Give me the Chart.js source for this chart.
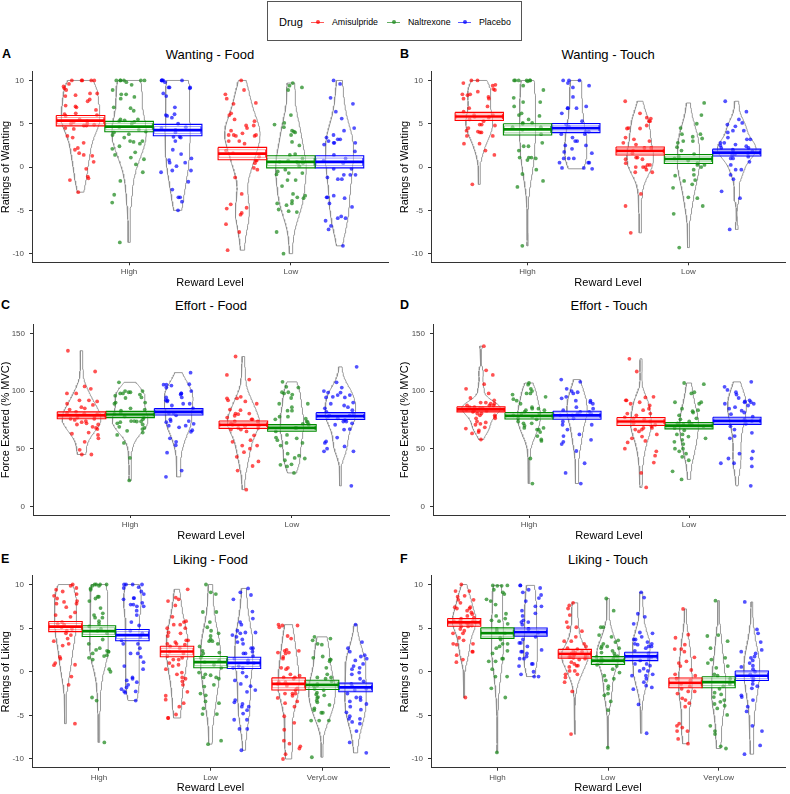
<!DOCTYPE html>
<html><head><meta charset="utf-8">
<script src="https://cdn.jsdelivr.net/npm/chart.js@4.4.1/dist/chart.umd.min.js"></script>
<style>
body{margin:0;width:790px;height:794px;position:relative;background:#fff;font-family:"Liberation Sans",Arial,Helvetica,sans-serif;overflow:hidden}
canvas{position:absolute}
.title{position:absolute;font-size:13px;line-height:1;color:#000;transform:translate(-50%,-50%);white-space:nowrap}
.tag{position:absolute;font-size:12.5px;line-height:1;font-weight:bold;color:#000;transform:translateY(-50%)}
#legend{position:absolute;left:267px;top:1px;width:255px;height:40px;border:1px solid #555;box-sizing:border-box}
#legend span{position:absolute;line-height:1;white-space:nowrap}
.kl{height:1.5px;width:13px;top:19.5px}
.kd{width:4px;height:4px;border-radius:50%;top:18.3px}
.lt{font-size:8.8px;top:16.3px;color:#000}
</style></head>
<body>
<div id="legend">
  <span style="left:11px;top:14.5px;font-size:11px">Drug</span>
  <span class="kl" style="left:43px;background:rgba(255,0,0,0.65)"></span><span class="kd" style="left:47.5px;background:rgba(255,0,0,0.75)"></span>
  <span class="lt" style="left:64px">Amisulpride</span>
  <span class="kl" style="left:119px;background:rgba(34,139,34,0.7)"></span><span class="kd" style="left:123.5px;background:rgba(34,139,34,0.8)"></span>
  <span class="lt" style="left:140px">Naltrexone</span>
  <span class="kl" style="left:190px;background:rgba(0,0,255,0.65)"></span><span class="kd" style="left:194.5px;background:rgba(0,0,255,0.75)"></span>
  <span class="lt" style="left:211px">Placebo</span>
</div>
<div class="tag" style="left:2px;top:54px">A</div>
<div class="tag" style="left:400px;top:54px">B</div>
<div class="tag" style="left:1px;top:305px">C</div>
<div class="tag" style="left:400px;top:305px">D</div>
<div class="tag" style="left:1px;top:558.5px">E</div>
<div class="tag" style="left:400px;top:558.5px">F</div>
<div class="title" style="left:210px;top:53.7px">Wanting - Food</div>
<div class="title" style="left:608px;top:53.7px">Wanting - Touch</div>
<div class="title" style="left:211px;top:305px">Effort - Food</div>
<div class="title" style="left:609px;top:305px">Effort - Touch</div>
<div class="title" style="left:210.5px;top:558.7px">Liking - Food</div>
<div class="title" style="left:608px;top:558.7px">Liking - Touch</div>
<canvas id="cA" width="395" height="230" style="left:0;top:62px"></canvas>
<canvas id="cB" width="395" height="230" style="left:395px;top:62px"></canvas>
<canvas id="cC" width="395" height="230" style="left:0;top:315px"></canvas>
<canvas id="cD" width="395" height="230" style="left:395px;top:315px"></canvas>
<canvas id="cE" width="395" height="228" style="left:0;top:566px"></canvas>
<canvas id="cF" width="395" height="228" style="left:395px;top:566px"></canvas>
<script>
// ---------- categories & tick labels ----------
const drugs = ['Amisulpride','Naltrexone','Placebo'];
const levels2 = ['High','Low'];
const levels3 = ['High','Low','VeryLow'];
const ticksRating = [-10,-5,0,5,10];
const ticksForce = [0,50,100,150];

// ---------- A: Wanting - Food ----------
const wfHighAmi = [10,10,10,10,10,9.6,9.3,9.1,8.9,8.5,8.5,8.3,8.2,7.8,7.6,7.1,7.0,6.9,6.6,6.2,6.1,6.0,5.9,5.5,5.3,5.2,5.0,5.0,4.9,4.8,4.8,4.5,4.4,3.6,3.4,2.8,2.2,2.0,1.6,1.4,1.3,0.6,-0.2,-1.1,-1.3,-1.5,-2.9];
const wfHighNal = [10,10,10,10,10,10,9.8,9.5,8.9,8.4,8.4,8.1,7.9,6.9,6.8,6.5,5.5,5.5,5.4,5.3,5.2,5.0,4.6,4.3,4.1,4.0,3.8,3.7,3.4,3.0,3.0,2.9,2.7,2.4,2.1,1.7,1.4,1.1,0.9,0.3,-0.6,-1.6,-3.2,-4.1,-8.7];
const wfHighPla = [10,10,10,10,10,9.8,9.2,9.2,9.2,9.1,8.5,8.2,6.9,6.1,6.0,5.9,5.7,5.0,4.6,4.5,4.3,4.0,3.5,3.5,3.4,3.0,2.0,1.5,1.0,0.8,0.5,0.5,0.1,-0.4,-0.4,-0.6,-1.7,-2.6,-3.5,-3.5,-4.0,-5.0];
const wfLowAmi = [10,8.9,8.4,7.9,7.4,7.3,6.2,6.0,5.5,5.3,4.8,4.8,4.5,4.2,3.9,3.7,3.7,3.7,3.6,3.6,3.0,3.0,2.7,1.9,1.6,1.2,0.75,0.75,0.45,-0.1,-0.3,-1.2,-3.1,-4.3,-4.7,-4.8,-5.3,-5.5,-6.6,-7.5,-9.6];
const wfLowNal = [9.7,9.4,9.2,8.9,6.0,5.1,4.9,4.6,4.2,4.1,4.0,3.7,2.9,2.5,1.5,1.4,1.0,0.75,0.6,0.6,0.45,0.45,0.1,-0.3,-0.5,-0.7,-0.7,-0.85,-1.5,-1.5,-2.2,-3.1,-3.3,-3.5,-3.6,-3.9,-4.2,-4.2,-4.4,-4.9,-5.1,-5.2,-7.5,-10];
const wfLowPla = [10,9.6,8.0,7.3,6.4,5.6,4.5,4.2,3.7,3.4,3.2,3.2,3.0,2.8,2.8,2.8,2.6,1.8,1.4,1.0,0.75,0.45,-0.2,-0.2,-0.9,-0.9,-0.9,-1.2,-1.4,-1.4,-3.3,-3.5,-3.5,-3.6,-4.2,-4.6,-5.7,-5.9,-5.9,-6.2,-6.8,-7.2,-9.1];
const wfMean = [[5.35,4.68,4.27],[1.56,0.6,0.6]];
const wfSe = [[0.6,0.6,0.66],[0.71,0.7,0.7]];

// ---------- B: Wanting - Touch ----------
const wtHighAmi = [10,10,9.7,9.5,9.4,9.0,8.9,8.7,8.4,8.4,8.3,8.1,7.9,7.9,7.0,6.8,6.4,6.0,6.0,5.8,5.8,5.7,5.5,5.3,4.9,4.9,4.8,4.5,4.2,4.1,4.0,4.0,3.6,3.6,2.7,2.7,1.9,1.4,-2.0];
const wtHighNal = [10,10,10,10,10,10,9.9,9.4,8.9,8.0,7.5,7.5,7.0,6.2,6.0,5.9,5.5,5.1,5.1,5.0,4.6,4.6,4.3,3.8,2.8,2.4,2.4,1.9,1.1,1.1,1.1,1.0,0.8,-0.3,-0.8,-1.6,-2.3,-9.1];
const wtHighPla = [10,10,10,9.7,9.4,9.2,8.1,7.0,6.8,6.8,6.8,6.2,5.3,4.9,4.7,4.1,4.1,3.8,3.8,3.4,3.0,3.0,2.5,2.5,2.1,1.75,1.6,1.0,1.0,1.0,0.5,0.5,0.5,-0.1,-0.1,-0.2];
const wtLowAmi = [7.6,6.2,5.7,5.6,5.3,5.3,4.8,4.5,4.45,4.45,3.4,3.2,3.0,2.8,2.6,2.2,2.2,1.9,1.6,1.1,1.1,0.9,0.9,0.45,0.25,0.25,0,0,0,-0.3,-0.6,-0.6,-3.1,-4.5,-7.6];
const wtLowNal = [7.4,6.0,5.0,4.5,3.8,3.8,3.5,3.3,3.0,3.0,2.8,2.3,1.9,1.5,1.2,1.0,0.75,0.45,0.25,0.25,0,-0.3,-0.9,-1.0,-1.5,-1.6,-2.0,-2.4,-3.5,-3.6,-4.5,-5.4,-9.3];
const wtLowPla = [7.6,6.4,5.5,5.1,4.9,4.7,4.2,4.2,4.0,3.4,3.2,3.2,2.8,2.8,2.6,2.5,2.4,2.2,2.2,2.0,1.9,1.8,1.6,1.5,1.4,1.2,1.0,1.0,0.6,0.25,-0.3,-0.3,-0.9,-1.4,-2.8,-3.6,-7.2];
const wtMean = [[5.84,4.35,4.5],[1.86,0.93,1.67]];
const wtSe = [[0.47,0.65,0.53],[0.46,0.52,0.4]];

// ---------- C: Effort - Food ----------
const efHighAmi = [135,117,104,102,98,98,92,92,91,89,88,86,85,84,82,81,80.5,80,78,77,76,76,75,74,73,72,71,71,69,68,67,64,63,62,59,56,49,45,45];
const efHighNal = [107.6,100,100,99,99,98,98,97,96,94.5,94,90,90,89,85,84,83,81,80,78,77,75.5,74,74,73.6,73.6,73,72,71,69,68,67,65.5,64,62,55,42,22.5];
const efHighPla = [116,106,105.6,105.6,104.8,103,100,98,98,97,94.5,94.5,92,92,91,89,89,87.5,85,81,81,79,75.5,74,74,73,71.6,70,70,68.6,66,64.7,59,56,53,46.6,31,25.6];
const efLowAmi = [130,114,110,95,93.7,93.7,92,91,89,84,83.4,80.5,80.5,80,78.6,77,75.5,75.5,73.6,73.6,72,70.8,69.4,69.4,68,68,66.6,66.6,65,61.6,57.4,56,52.7,52.7,50,47,43,39,35,31,14.5];
const efLowNal = [108,103.7,103,99,99,98,97,94,89,89,86,83,83,77.8,77.8,76,75.5,73.6,73,71.6,70.8,68,68,65,62,59.7,59,57.4,55,55,52.7,45.7,44,42,41.5,40,36.5,36,34.6,29];
const efLowPla = [121,107.6,103,100,98.7,98.7,96.5,96.5,95,94.5,94.5,90,89,87.5,86,85,83.4,82,80.5,79,79,77.8,76.4,75,73.6,73.6,72,70.8,67,66.6,59.7,56.3,55,52,50,47.7,47.7,17.8];
const efMean = [[79,79.7,82],[70.8,68,78.3]];
const efSe = [[3,2.7,2.8],[3.3,2.9,3]];

// ---------- D: Effort - Touch ----------
const etHighAmi = [139,118,114,106,102,98,94,92,90,90,89,89,87.5,87.5,87.5,86,86,85,85,84,84,83,83,82,80.5,80.5,79,79,77.8,76.4,76.4,73.6,72.8,71.6,70.8,68.6,67.5,65.8,64.4,63.3,58];
const etHighNal = [107,105.6,102,100,98,98,97,95,93,91.7,89,86,84.7,84.7,83.4,83.4,82,80.5,80.5,79,77.8,76.4,75.5,73.6,72,72,70,68,68,66.6,66.6,64.4,61,58,56.8,41.5,19.8];
const etHighPla = [110,108,102,100,99,98,95,93.7,91.7,91.7,90.3,89,86,84.7,83.4,82,82,80.5,80.5,79,79,76.4,73.6,70.8,70.8,66.6,62.4,61,57.7,56,54,48,37.4,29,19.8];
const etLowAmi = [128,117,95,94.5,92,92,90.3,89,87.5,84.7,83.4,80.5,80.5,79,77.2,76.4,75.5,73.6,72,70.8,69.4,68,68,66.6,66.6,65,62.4,60.5,59,56.8,55.5,50,47.7,44,38,29,16.4];
const etLowNal = [107,106,99,98,90.3,90.3,89,84.7,83.4,82.5,81.4,79,76.4,75.5,73.6,72,71.6,70.8,70.8,69.4,68,66,62.4,62.4,60.5,59,57.7,56,54,50,50,47.7,45.7,43,40,30.4,23.4];
const etLowPla = [108,103.7,101,99,97,94,92,91,90.3,90.3,89,89,87.5,86,84.7,83,81.4,80,77.8,75.5,74,71.6,69.4,66.6,63.8,61,59,47.7,45.7,41.5,41.5,37.4,37.4,34.6,17.8];
const etMean = [[84.2,78.6,79],[73.6,70,74.2]];
const etSe = [[2.2,2.8,3.5],[3.5,2.8,3.1]];

// ---------- E: Liking - Food ----------
const lfHighAmi = [10,9.85,9.6,9.4,9.2,8.9,8.7,8.4,8.1,8.0,7.8,7.8,7.4,6.8,6.5,6.3,5.7,5.5,5.4,5.1,4.9,4.7,4.4,4.2,3.8,3.5,3.2,3.0,1.7,1.5,1.0,0.8,0.75,-0.55,-1.5,-5.95];
const lfHighNal = [10,10,10,10,9.85,9.85,9.55,9.4,8.6,8.6,8.4,8.1,7.3,6.7,6.5,6.2,6.2,5.8,5.5,5.2,4.9,4.7,4.4,3.7,3.2,2.7,2.5,2.4,2.3,2.3,2.1,1.9,1.8,1.6,1.4,0.3,0,-2.95,-3.3,-8.1];
const lfHighPla = [10,10,10,10,9.7,9.6,9.2,8.9,8.45,8.45,8.3,7.9,7.7,7.7,7.5,7.5,7.0,6.5,5.7,5.3,4.7,4.4,4.0,3.6,3.2,3.2,2.7,2.1,2.1,1.7,1.1,0.65,0.3,-0.65,-0.8,-1.0,-1.2,-1.5,-1.8,-2.0,-2.25,-2.25,-2.4,-3.3];
const lfLowAmi = [9.45,8.5,8.3,8.1,7.6,6.3,5.8,5.7,5.4,5.4,5.0,5.0,4.5,4.4,4.1,3.6,3.6,3.4,3.2,3.2,3.1,2.9,2.7,2.3,2.1,1.8,1.6,1.4,1.4,1.0,0.8,0.65,0.3,-0.1,-0.3,-0.65,-0.8,-1.1,-1.5,-2.3,-2.75,-3.2,-3.6,-4.0,-4.9,-5.3,-5.3];
const lfLowNal = [10,9.1,8.9,6.85,6.85,5.7,5.1,4.7,4.4,4.1,3.7,3.5,3.5,3.2,2.9,2.4,2.2,2.1,1.8,1.6,1.3,1.1,0.8,0.45,-0.1,-0.3,-0.4,-0.65,-0.65,-0.8,-1.5,-1.7,-2.5,-2.7,-3.4,-3.6,-4.2,-4.85,-4.85,-7.9,-8.3];
const lfLowPla = [9.55,9.1,8.8,8.3,6.9,6.1,5.7,5.4,4.7,4.5,4.5,4.4,4.2,4.0,3.7,3.4,3.2,2.7,2.7,2.3,2.1,2.1,1.8,1.5,1.3,1.0,1.0,0.65,0.45,0.45,-0.1,-0.55,-1.0,-1.4,-1.65,-2.1,-2.3,-3.25,-3.5,-3.7,-4.0,-4.0,-4.4,-4.8,-5.5,-5.5,-6.55,-6.55,-9.0];
const lfVlowAmi = [5.4,5.3,5.3,5.1,4.1,3.8,2.5,2.4,2.4,2.2,2.2,2.1,1.7,1.5,0.45,0.45,0.3,-0.3,-0.45,-0.65,-0.65,-0.8,-1.2,-1.2,-1.4,-1.6,-1.9,-2.1,-2.5,-2.5,-2.5,-2.75,-3.0,-3.4,-3.6,-4.0,-5.1,-5.85,-6.65,-7.9,-8.25,-8.55,-8.8,-9.45,-10];
const lfVlowNal = [4.0,3.8,3.6,3.2,3.1,1.75,1.6,1.4,1.4,1.2,0.45,-0.3,-0.65,-0.65,-0.8,-1.1,-1.4,-1.6,-1.6,-1.95,-2.1,-2.4,-2.6,-2.7,-2.9,-3.0,-3.3,-3.5,-3.8,-4.2,-4.4,-4.7,-4.7,-5.6,-5.6,-5.6,-9.8];
const lfVlowPla = [5.4,3.4,2.7,2.3,1.9,1.75,1.5,1.3,0.9,0.65,0.45,0.3,-0.1,-0.3,-0.8,-1.1,-1.4,-1.65,-1.95,-2.1,-2.5,-2.95,-2.95,-3.25,-3.4,-3.7,-4.0,-4.35,-4.65,-5.1,-5.4,-5.4,-5.75,-5.95,-6.8,-8.1,-9.3];
const lfMean = [[5.18,4.66,4.2],[2.32,1.1,1.02],[-1.4,-1.5,-1.8]];
const lfSe = [[0.58,0.62,0.65],[0.6,0.65,0.65],[0.7,0.53,0.5]];

// ---------- F: Liking - Touch ----------
const ltHighAmi = [10,9.25,9.25,8.7,8.6,8.25,8.25,7.9,7.4,7.4,7.25,7.25,7.0,6.8,6.6,6.4,6.2,6.1,5.9,5.8,5.8,5.7,5.6,5.5,5.5,5.3,5.2,5.2,4.9,4.7,4.4,4.4,3.9,3.6,3.2,3.2,3.1,2.3,2.3,1.9,1.4,1.1,-2.95];
const ltHighNal = [9.9,9.9,9.85,9.85,9.4,9.1,8.9,8.3,8.1,7.7,6.65,6.4,6.1,5.9,5.8,5.5,4.9,4.65,4.4,3.9,3.7,3.2,3.2,2.9,2.7,2.4,2.1,1.5,1.5,1.2,1.2,0.3,-0.55,-0.55,-1.9,-2.95,-9.25];
const ltHighPla = [9.9,9.9,9.6,9.4,9.1,8.8,8.45,8.1,7.5,7.5,7.0,6.7,6.4,5.9,5.7,5.7,5.4,4.9,4.9,4.5,4.0,3.7,3.3,3.3,2.9,2.5,2.3,2.3,2.1,1.75,1.5,1.5,0.9,0.9,0.65,0,-0.3,-0.55,-0.55];
const ltLowAmi = [7.9,7.6,7.25,6.5,5.7,5.1,5.1,4.65,4.0,3.5,3.5,3.2,2.9,2.7,2.6,2.4,2.3,2.2,2.1,2.0,1.9,1.8,1.7,1.7,1.6,1.5,1.4,1.1,0.9,0.7,0.7,0.55,0.1,0.1,-0.3,-0.3,-0.65,-1.2,-2.25,-7.15];
const ltLowNal = [8.4,7.0,5.1,5.1,4.2,4.0,3.6,3.4,3.2,2.9,2.9,2.7,2.7,2.4,2.2,2.1,1.8,1.8,1.7,1.5,1.5,1.3,1.3,1.1,0.8,0.65,0.3,-0.1,-0.45,-0.8,-1.0,-1.65,-1.95,-2.5,-2.7,-3.4,-4.4,-8.7];
const ltLowPla = [9.1,8.5,6.65,6.3,5.5,4.5,4.4,4.0,3.7,3.7,3.4,3.2,3.2,3.1,2.9,2.9,2.7,2.4,2.1,1.7,1.5,1.3,0.9,0.9,0.7,0.35,0.1,0.1,-0.3,-0.45,-0.45,-0.8,-1.2,-1.6,-1.8,-2.0,-3.75,-7.05];
const ltVlowAmi = [7.2,4.25,3.9,3.1,2.6,2.6,2.3,1.65,1.2,1.0,0.65,0.2,-0.3,-0.45,-0.8,-1.0,-1.4,-1.65,-1.95,-2.25,-2.25,-2.5,-3.05,-3.25,-3.6,-4.0,-5.95,-6.2,-6.4,-6.8,-6.8,-7.7,-8.25];
const ltVlowNal = [8.15,4.2,4.1,3.5,2.7,1.6,1.4,1.0,0.65,0.45,-0.3,-0.45,-0.8,-1.2,-1.4,-1.65,-1.95,-2.4,-2.6,-2.9,-3.25,-3.45,-3.7,-3.9,-4.2,-4.95,-6.2,-6.8,-7.15,-8.55,-8.8];
const ltVlowPla = [8.0,4.85,4.4,3.4,2.5,2.3,2.1,1.75,1.6,1.3,1.0,0.7,0.55,0.3,0,-0.3,-0.55,-0.8,-1.0,-1.4,-1.65,-1.9,-2.7,-2.9,-3.25,-4.0,-4.55,-6.2,-6.8,-8.45,-9.45];
const ltMean = [[5.66,4.43,4.55],[2.06,1.28,1.76],[-1.28,-1.2,-0.46]];
const ltSe = [[0.45,0.6,0.47],[0.5,0.45,0.48],[0.56,0.63,0.55]];

// ---------- styling ----------
const FAMILY = '"Liberation Sans", Arial, Helvetica, sans-serif';
const pointColors = ['rgba(255,0,0,0.68)','rgba(34,139,34,0.74)','rgba(0,0,255,0.68)'];
const barColors = ['#ff0000','#008b00','#0000ff'];
const barInner = ['rgba(255,0,0,0.38)','rgba(0,139,0,0.38)','rgba(0,0,255,0.38)'];
const dodge = [-0.3, 0, 0.3];
const HALF_BOX = 0.15, JITTER = 0.105, VIOLIN_HALF = 0.12;

function q7(s,p){const h=(s.length-1)*p,lo=Math.floor(h),hi=Math.min(lo+1,s.length-1);return s[lo]+(h-lo)*(s[hi]-s[lo]);}
function bwNrd0(v){const n=v.length,m=v.reduce((a,b)=>a+b,0)/n;
  const sd=Math.sqrt(v.reduce((a,b)=>a+(b-m)*(b-m),0)/(n-1));
  const s=[...v].sort((a,b)=>a-b);const iqr=q7(s,.75)-q7(s,.25);
  let lo=Math.min(sd,iqr/1.34); if(!(lo>0)) lo=sd||1; return 0.9*lo*Math.pow(n,-0.2);}
function dens(v,h,y){let s=0;for(const x of v){const z=(y-x)/h;s+=Math.exp(-0.5*z*z);}return s/(v.length*h*Math.sqrt(2*Math.PI));}
function hash01(a){const s=Math.sin(a)*43758.5453;return s-Math.floor(s);}

const panels = [
 {id:'cA', levels:levels2, groups:[[wfHighAmi,wfHighNal,wfHighPla],[wfLowAmi,wfLowNal,wfLowPla]], mean:wfMean, se:wfSe,
  ymin:-11, ymax:11, ticks:ticksRating, ytitle:'Ratings of Wanting', pad:{top:3.3,right:7}, yW:32, xH:29.7, ytp:0.5, xtp:3.8},
 {id:'cB', levels:levels2, groups:[[wtHighAmi,wtHighNal,wtHighPla],[wtLowAmi,wtLowNal,wtLowPla]], mean:wtMean, se:wtSe,
  ymin:-11, ymax:11, ticks:ticksRating, ytitle:'Ratings of Wanting', pad:{top:3.3,right:5}, yW:36, xH:29.7, ytp:4.5, xtp:3.8},
 {id:'cC', levels:levels2, groups:[[efHighAmi,efHighNal,efHighPla],[efLowAmi,efLowNal,efLowPla]], mean:efMean, se:efSe,
  ymin:-7.5, ymax:157.5, ticks:ticksForce, ytitle:'Force Exerted (% MVC)', pad:{top:3,right:6}, yW:33, xH:30, ytp:0.5, xtp:3.5},
 {id:'cD', levels:levels2, groups:[[etHighAmi,etHighNal,etHighPla],[etLowAmi,etLowNal,etLowPla]], mean:etMean, se:etSe,
  ymin:-7.5, ymax:157.5, ticks:ticksForce, ytitle:'Force Exerted (% MVC)', pad:{top:3,right:5}, yW:38, xH:30, ytp:4.5, xtp:3.5},
 {id:'cE', levels:levels3, groups:[[lfHighAmi,lfHighNal,lfHighPla],[lfLowAmi,lfLowNal,lfLowPla],[lfVlowAmi,lfVlowNal,lfVlowPla]], mean:lfMean, se:lfSe,
  ymin:-11, ymax:11, ticks:ticksRating, ytitle:'Ratings of Liking', pad:{top:4.3,right:6}, yW:32, xH:26.3, ytp:0.5, xtp:0.5},
 {id:'cF', levels:levels3, groups:[[ltHighAmi,ltHighNal,ltHighPla],[ltLowAmi,ltLowNal,ltLowPla],[ltVlowAmi,ltVlowNal,ltVlowPla]], mean:ltMean, se:ltSe,
  ymin:-11, ymax:11, ticks:ticksRating, ytitle:'Ratings of Liking', pad:{top:4.3,right:5}, yW:36, xH:26.3, ytp:4.5, xtp:0.5}
];

panels.forEach((P,pi)=>{
  const violins=[], pts=[[],[],[]], bars=[];
  const prof=[]; let maxD=0;
  P.groups.forEach((g,li)=>g.forEach((v,di)=>{
    const h=bwNrd0(v), lo=Math.min(...v), hi=Math.max(...v), N=90, ys=[], ds=[];
    for(let k=0;k<=N;k++){const y=lo+(hi-lo)*k/N; const d=dens(v,h,y); ys.push(y); ds.push(d); if(d>maxD)maxD=d;}
    prof.push({li,di,ys,ds});
  }));
  prof.forEach(p=>{
    const c=p.li+1+dodge[p.di], data=[];
    for(let k=0;k<p.ys.length;k++) data.push({x:c+VIOLIN_HALF*p.ds[k]/maxD, y:p.ys[k]});
    for(let k=p.ys.length-1;k>=0;k--) data.push({x:c-VIOLIN_HALF*p.ds[k]/maxD, y:p.ys[k]});
    data.push(data[0]);
    violins.push({type:'line', data, borderColor:'#8f8f8f', borderWidth:0.9, pointRadius:0, fill:false, tension:0, order:5});
  });
  // jittered points (horizontal jitter only, as in the original)
  P.groups.forEach((g,li)=>g.forEach((v,di)=>{
    const c=li+1+dodge[di];
    v.forEach((y,i)=>{ const j=(2*hash01(i*12.9898+li*78.233+di*37.719+pi*5.171+1.3)-1)*JITTER; pts[di].push({x:c+j,y}); });
  }));
  const ptSets = pts.map((d,di)=>({type:'scatter', data:d, backgroundColor:pointColors[di], borderWidth:0, pointRadius:1.9, order:4}));
  // crossbars: mean +/- SE
  P.mean.forEach((row,li)=>row.forEach((m,di)=>{
    const c=li+1+dodge[di], s=P.se[li][di], hi=m+s, lo=m-s, L=c-HALF_BOX, R=c+HALF_BOX;
    bars.push({type:'line', data:[{x:L,y:hi},{x:R,y:hi},{x:R,y:lo},{x:L,y:lo},{x:L,y:hi}], borderColor:barColors[di], borderWidth:1.1,
      fill:'shape', backgroundColor:'rgba(255,255,255,0.45)', pointRadius:0, tension:0, order:3});
    const s2=s*0.62, L2=c-HALF_BOX*0.96, R2=c+HALF_BOX*0.96;
    bars.push({type:'line', data:[{x:L2,y:m+s2},{x:R2,y:m+s2},{x:R2,y:m-s2},{x:L2,y:m-s2},{x:L2,y:m+s2}], borderColor:barInner[di], borderWidth:1,
      fill:false, pointRadius:0, tension:0, order:2});
    bars.push({type:'line', data:[{x:L,y:m},{x:R,y:m}], borderColor:barColors[di], borderWidth:2.7, fill:false, pointRadius:0, order:1});
  }));
  const axisCommon = {
    grid:{display:true, drawOnChartArea:false, drawTicks:true, tickLength:3, color:'#333', lineWidth:1},
    border:{display:true, color:'#333', width:1}
  };
  new Chart(document.getElementById(P.id), {
    type:'scatter',
    data:{datasets:[...violins, ...ptSets, ...bars]},
    options:{
      responsive:false, animation:false, devicePixelRatio:1, events:[],
      layout:{padding:{top:P.pad.top, right:P.pad.right, left:0, bottom:0}},
      plugins:{legend:{display:false}, tooltip:{enabled:false}},
      scales:{
        x:{type:'linear', min:0.4, max:P.levels.length+0.6, ...axisCommon,
           afterBuildTicks:s=>{s.ticks=P.levels.map((l,i)=>({value:i+1}));},
           afterFit:s=>{s.height=P.xH;},
           ticks:{color:'#4d4d4d', font:{size:8, family:FAMILY}, padding:2, maxRotation:0, autoSkip:false,
                  callback:v=>P.levels[Math.round(v)-1] ?? ''},
           title:{display:true, text:'Reward Level', color:'#000', font:{size:11, family:FAMILY, lineHeight:1}, padding:{top:0,bottom:P.xtp}}},
        y:{type:'linear', min:P.ymin, max:P.ymax, ...axisCommon,
           afterBuildTicks:s=>{s.ticks=P.ticks.map(v=>({value:v}));},
           afterFit:s=>{s.width=P.yW;},
           ticks:{color:'#4d4d4d', font:{size:8, family:FAMILY}, padding:5, callback:v=>String(v)},
           title:{display:true, text:P.ytitle, color:'#000', font:{size:11, family:FAMILY, lineHeight:1}, padding:{top:P.ytp,bottom:0}}}
      }
    }
  });
});
</script>
</body></html>
